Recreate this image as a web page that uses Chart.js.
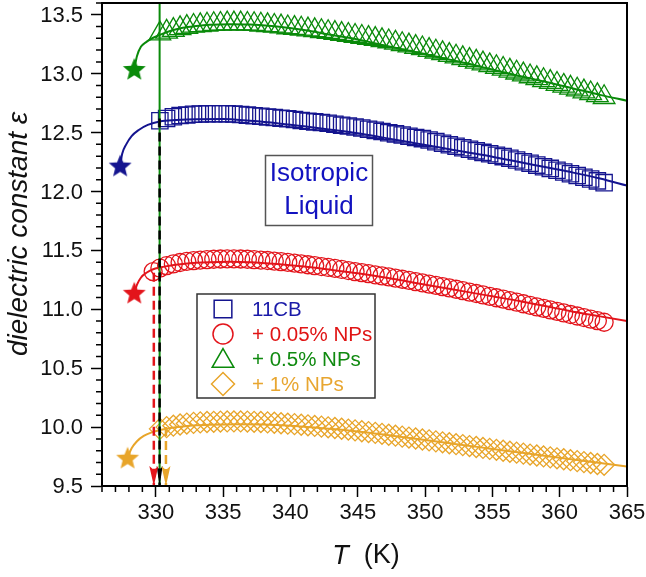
<!DOCTYPE html>
<html>
<head>
<meta charset="utf-8">
<script src="https://cdn.jsdelivr.net/npm/chart.js@4.4.1/dist/chart.umd.min.js"></script>
<style>
  html, body { margin: 0; padding: 0; background: #fff; }
  #wrap { position: relative; width: 646px; height: 577px; }
</style>
</head>
<body>
<div id="wrap"><canvas id="grafica"></canvas></div>
<script>
// measured temperatures (K)
const tempK = [329.8, 330.3, 330.8, 331.3, 331.8, 332.3, 332.8, 333.3, 333.8, 334.3, 334.8, 335.3, 335.8,
    336.3, 336.8, 337.3, 337.8, 338.3, 338.8, 339.3, 339.8, 340.3, 340.8, 341.3, 341.8, 342.3, 342.8,
    343.3, 343.8, 344.3, 344.8, 345.3, 345.8, 346.3, 346.8, 347.3, 347.8, 348.3, 348.8, 349.3, 349.8,
    350.3, 350.8, 351.3, 351.8, 352.3, 352.8, 353.3, 353.8, 354.3, 354.8, 355.3, 355.8, 356.3, 356.8,
    357.3, 357.8, 358.3, 358.8, 359.3, 359.8, 360.3, 360.8, 361.3, 361.8, 362.3, 362.8, 363.3];

const eps11CB = [null, 12.60, 12.62, 12.635, 12.645, 12.65, 12.655, 12.658, 12.66, 12.66, 12.66, 12.66, 12.657,
    12.653, 12.648, 12.643, 12.638, 12.633, 12.628, 12.622, 12.617, 12.611, 12.603, 12.596, 12.591, 12.586, 12.579,
    12.571, 12.563, 12.556, 12.548, 12.539, 12.529, 12.519, 12.509, 12.499, 12.489, 12.479, 12.469, 12.459, 12.449,
    12.437, 12.423, 12.41, 12.397, 12.384, 12.371, 12.358, 12.345, 12.332, 12.32, 12.308, 12.296, 12.282, 12.268,
    12.253, 12.239, 12.224, 12.21, 12.196, 12.181, 12.166, 12.151, 12.136, 12.121, 12.106, 12.09, 12.075];

const eps005 = [11.32, 11.35, 11.37, 11.385, 11.397, 11.406, 11.413, 11.418, 11.422, 11.425, 11.427, 11.428, 11.428,
    11.427, 11.425, 11.422, 11.418, 11.414, 11.409, 11.404, 11.398, 11.392, 11.385, 11.378, 11.371, 11.363, 11.355,
    11.347, 11.338, 11.329, 11.32, 11.311, 11.302, 11.293, 11.284, 11.275, 11.265, 11.255, 11.245, 11.235, 11.225,
    11.214, 11.203, 11.192, 11.181, 11.17, 11.158, 11.146, 11.134, 11.122, 11.11, 11.098, 11.086, 11.073, 11.06,
    11.047, 11.034, 11.021, 11.008, 10.995, 10.982, 10.969, 10.956, 10.943, 10.93, 10.917, 10.903, 10.89];

const eps05 = [null, 13.34, 13.355, 13.37, 13.385, 13.395, 13.405, 13.41, 13.415, 13.42, 13.422, 13.425, 13.425,
    13.425, 13.422, 13.42, 13.415, 13.41, 13.405, 13.40, 13.392, 13.387, 13.381, 13.374, 13.368, 13.36, 13.352,
    13.344, 13.336, 13.328, 13.32, 13.311, 13.302, 13.293, 13.283, 13.273, 13.262, 13.25, 13.238, 13.226, 13.214,
    13.2, 13.186, 13.172, 13.158, 13.144, 13.13, 13.115, 13.1, 13.085, 13.07, 13.055, 13.04, 13.024, 13.008,
    12.992, 12.976, 12.96, 12.944, 12.928, 12.912, 12.896, 12.88, 12.864, 12.848, 12.832, 12.816, 12.80];

const eps1 = [null, 9.985, 10.0, 10.012, 10.022, 10.03, 10.036, 10.04, 10.043, 10.045, 10.047, 10.048, 10.048,
    10.048, 10.047, 10.045, 10.043, 10.04, 10.037, 10.033, 10.029, 10.025, 10.02, 10.015, 10.01, 10.004, 9.998,
    9.992, 9.986, 9.979, 9.972, 9.965, 9.958, 9.951, 9.943, 9.935, 9.927, 9.919, 9.911, 9.903, 9.895,
    9.887, 9.879, 9.871, 9.863, 9.855, 9.847, 9.839, 9.831, 9.823, 9.815, 9.807, 9.799, 9.791, 9.783,
    9.775, 9.767, 9.759, 9.751, 9.743, 9.735, 9.727, 9.719, 9.711, 9.703, 9.695, 9.687, 9.68];

// fitted curves (drawn as solid lines), starting at the star point
const fit11CB_T = [327.35, 327.5, 327.8, 328.2, 328.7, 329.4, 330.3, 331.5, 333, 335, 337, 339, 341, 343, 345, 347, 349, 351, 353, 355, 357, 359, 361, 363, 365];
const fit11CB = [12.22, 12.32, 12.40, 12.47, 12.52, 12.565, 12.595, 12.607, 12.614, 12.615, 12.60, 12.58, 12.553, 12.525, 12.495, 12.455, 12.415, 12.375, 12.335, 12.295, 12.25, 12.205, 12.16, 12.11, 12.05];
const fit005_T = [328.4, 328.6, 328.9, 329.3, 329.8, 330.3, 331, 332, 333, 334, 335.5, 337, 339, 341, 343, 345, 347, 349, 351, 353, 355, 357, 359, 361, 363, 365];
const fit005 = [11.14, 11.21, 11.27, 11.31, 11.34, 11.355, 11.37, 11.385, 11.395, 11.40, 11.403, 11.40, 11.385, 11.363, 11.335, 11.305, 11.27, 11.23, 11.19, 11.15, 11.11, 11.07, 11.025, 10.98, 10.94, 10.90];
const fit05_T = [328.4, 328.6, 328.9, 329.3, 329.8, 330.3, 331, 332, 333, 334, 335.5, 337, 339, 341, 343, 345, 347, 349, 351, 353, 355, 357, 359, 361, 363, 365];
const fit05 = [13.04, 13.15, 13.23, 13.27, 13.305, 13.33, 13.36, 13.39, 13.405, 13.415, 13.42, 13.418, 13.40, 13.37, 13.33, 13.29, 13.24, 13.19, 13.14, 13.09, 13.035, 12.98, 12.93, 12.875, 12.82, 12.77];
const fit1_T = [327.9, 328.2, 328.6, 329.1, 329.7, 330.3, 331, 332, 333, 334, 336, 338, 340, 342, 344, 346, 348, 350, 352, 354, 356, 358, 360, 362, 364, 365];
const fit1 = [9.74, 9.82, 9.88, 9.925, 9.955, 9.975, 9.99, 10.005, 10.015, 10.02, 10.025, 10.022, 10.012, 9.995, 9.975, 9.95, 9.92, 9.89, 9.86, 9.83, 9.80, 9.77, 9.74, 9.71, 9.68, 9.665];

// stars (11CB, 0.05%, 0.5%, 1%)
const starT = [327.35, 328.4, 328.4, 327.9];
const starEps = [12.22, 11.14, 13.04, 9.74];

// transition markers: vertical lines (11CB dashed, 0.05% dashed, 0.5% solid, 1% dashed)
const transT = [330.28, 329.85, 330.28, 330.75];
const transTop = [12.62, 11.31, 13.6, 10.0];

const seriesNames = ['11CB', '+ 0.05% NPs', '+ 0.5% NPs', '+ 1% NPs'];
const xTicks = [330, 335, 340, 345, 350, 355, 360, 365];
const yTicks = [9.5, 10.0, 10.5, 11.0, 11.5, 12.0, 12.5, 13.0, 13.5];

const colores = ['#14148f', '#e3141b', '#0a8a0a', '#e8a52a'];
const textoColores = ['#1a1aa8', '#e01414', '#108a10', '#e8a630'];
const estilos = ['rect', 'circle', 'triangle', 'rectRot'];
const radios = [11.5, 9, 12.5, 10.5];
const fuente = "'Liberation Sans', Arial, sans-serif";

function pts(xs, ys) {
    return xs.map((t, i) => (ys[i] == null ? null : { x: t, y: ys[i] })).filter(Boolean);
}

function makeStar(color, r) {
    const c = document.createElement('canvas');
    const s = Math.ceil(r * 2 + 2);
    c.width = s; c.height = s;
    const g = c.getContext('2d');
    g.translate(s / 2, s / 2 + 1);
    g.beginPath();
    for (let i = 0; i < 10; i++) {
        const rr = i % 2 ? r * 0.44 : r;
        const ang = -Math.PI / 2 + i * Math.PI / 5;
        g.lineTo(rr * Math.cos(ang), rr * Math.sin(ang));
    }
    g.closePath();
    g.fillStyle = color;
    g.fill();
    return c;
}

const markerData = [eps11CB, eps005, eps05, eps1];
const fitData = [[fit11CB_T, fit11CB], [fit005_T, fit005], [fit05_T, fit05], [fit1_T, fit1]];

const datasets = [];
markerData.forEach((serie, i) => {
    datasets.push({
        data: pts(tempK, serie),
        showLine: false,
        pointStyle: estilos[i],
        pointRadius: radios[i],
        pointBorderWidth: 1.3,
        pointBorderColor: colores[i],
        pointBackgroundColor: 'rgba(0,0,0,0)',
        order: 6
    });
    datasets.push({
        data: pts(fitData[i][0], fitData[i][1]),
        showLine: true,
        borderColor: colores[i],
        borderWidth: 2,
        pointRadius: 0,
        cubicInterpolationMode: 'monotone',
        order: 5
    });
});

const lineColors = ['#000000', '#e3141b', '#0a8a0a', '#e8a52a'];
transT.forEach((t, i) => {
    const solid = i === 2;
    datasets.push({
        data: [{ x: t, y: transTop[i] }, { x: t, y: yTicks[0] }],
        showLine: true,
        borderColor: lineColors[i],
        borderWidth: solid ? 2 : 2.5,
        borderDash: solid ? [] : [9, 5],
        pointRadius: 0,
        order: solid ? 3 : 2
    });
});

datasets.push({
    data: pts(starT, starEps),
    showLine: false,
    pointStyle: colores.map(c => makeStar(c, 12)),
    pointRadius: 12,
    order: 1
});

const extras = {
    id: 'extras',
    afterDatasetsDraw(chart) {
        const { ctx, chartArea: a, scales: { x } } = chart;
        ctx.save();
        // arrow heads of the dashed lines
        transT.forEach((t, i) => {
            if (i === 2) return;
            const px = x.getPixelForValue(t);
            const w = i === 0 ? 6 : 9;
            const h = 20;
            ctx.beginPath();
            ctx.moveTo(px, a.bottom);
            ctx.lineTo(px - w / 2, a.bottom - h);
            ctx.lineTo(px, a.bottom - h + 4);
            ctx.lineTo(px + w / 2, a.bottom - h);
            ctx.closePath();
            ctx.fillStyle = lineColors[i];
            ctx.fill();
        });
        ctx.restore();
    },
    afterDraw(chart) {
        const { ctx, chartArea: a, scales: { x, y } } = chart;
        ctx.save();
        // frame
        ctx.strokeStyle = '#000';
        ctx.lineWidth = 2;
        ctx.strokeRect(a.left, a.top, a.right - a.left, a.bottom - a.top);

        // minor ticks
        ctx.lineWidth = 1.5;
        ctx.beginPath();
        for (let t = Math.ceil(x.min); t <= x.max; t++) {
            if (t % 5 === 0) continue;
            const px = x.getPixelForValue(t);
            ctx.moveTo(px, a.bottom);
            ctx.lineTo(px, a.bottom + 6);
        }
        for (let k = Math.ceil(y.min * 10); k <= Math.floor(y.max * 10); k++) {
            if (k % 5 === 0) continue;
            const py = y.getPixelForValue(k / 10);
            ctx.moveTo(a.left, py);
            ctx.lineTo(a.left - 6, py);
        }
        ctx.stroke();

        // y tick labels
        ctx.fillStyle = '#111';
        ctx.font = '22px ' + fuente;
        ctx.textAlign = 'right';
        ctx.textBaseline = 'middle';
        yTicks.forEach(v => {
            ctx.fillText(v.toFixed(1), a.left - 19, y.getPixelForValue(v) + 1);
        });

        // axis titles
        ctx.save();
        ctx.translate(19, 234);
        ctx.rotate(-Math.PI / 2);
        ctx.textAlign = 'center';
        ctx.font = 'italic 28px ' + fuente;
        ctx.fillText('dielectric constant \u03b5', 0, 0);
        ctx.restore();

        ctx.textAlign = 'left';
        ctx.font = 'italic 27px ' + fuente;
        const wT = ctx.measureText('T').width;
        ctx.font = '27px ' + fuente;
        const wK = ctx.measureText('  (K)').width;
        const x0 = 366 - (wT + wK) / 2;
        ctx.font = 'italic 27px ' + fuente;
        ctx.fillText('T', x0, 556);
        ctx.font = '27px ' + fuente;
        ctx.fillText('  (K)', x0 + wT, 556);

        // legend
        ctx.strokeStyle = '#333';
        ctx.lineWidth = 1.5;
        ctx.strokeRect(197, 294, 178, 104);
        seriesNames.forEach((name, i) => {
            const ry = 309 + i * 25;
            ctx.strokeStyle = colores[i];
            ctx.fillStyle = 'rgba(0,0,0,0)';
            ctx.lineWidth = 1.5;
            Chart.helpers.drawPoint(ctx, {
                pointStyle: estilos[i], radius: i === 2 ? 12.5 : radios[i] + 1, rotation: 0, borderWidth: 1.5
            }, 223, i === 2 ? ry + 2 : ry);
            ctx.fillStyle = textoColores[i];
            ctx.font = '20.5px ' + fuente;
            ctx.textAlign = 'left';
            ctx.fillText(name, 252, ry + 1);
        });

        // phase label
        ctx.strokeStyle = '#555';
        ctx.lineWidth = 1.5;
        ctx.strokeRect(265.5, 155.5, 107, 70);
        ctx.fillStyle = '#1212c0';
        ctx.font = '26px ' + fuente;
        ctx.textAlign = 'center';
        ctx.fillText('Isotropic', 319, 174);
        ctx.fillText('Liquid', 319, 207);
        ctx.restore();
    }
};

document.addEventListener('DOMContentLoaded', function () {
    const canvas = document.getElementById('grafica');
    new Chart(canvas, {
        type: 'scatter',
        data: { datasets: datasets },
        plugins: [extras],
        options: {
            responsive: true,
            maintainAspectRatio: false,
            animation: false,
            devicePixelRatio: 1,
            layout: { autoPadding: false, padding: { top: 3, right: 19, left: 0, bottom: 0 } },
            plugins: {
                legend: { display: false },
                tooltip: { enabled: false }
            },
            scales: {
                x: {
                    type: 'linear',
                    min: 326,
                    max: 365,
                    afterBuildTicks: s => { s.ticks = xTicks.map(v => ({ value: v })); },
                    afterFit: s => { s.height = 91; s.paddingLeft = 0; s.paddingRight = 0; },
                    ticks: {
                        font: { size: 22, family: fuente },
                        color: '#111',
                        padding: 3,
                        maxRotation: 0,
                        autoSkip: false,
                        callback: v => String(v)
                    },
                    grid: { drawOnChartArea: false, tickLength: 11, tickWidth: 1.5, tickColor: '#000' },
                    border: { color: '#000', width: 2 }
                },
                y: {
                    type: 'linear',
                    min: 9.5,
                    max: 13.6,
                    afterBuildTicks: s => { s.ticks = yTicks.map(v => ({ value: v })); },
                    afterFit: s => { s.width = 102; },
                    ticks: { display: false },
                    grid: { drawOnChartArea: false, tickLength: 11, tickWidth: 1.5, tickColor: '#000' },
                    border: { color: '#000', width: 2 }
                }
            }
        }
    });
});
</script>
</body>
</html>
